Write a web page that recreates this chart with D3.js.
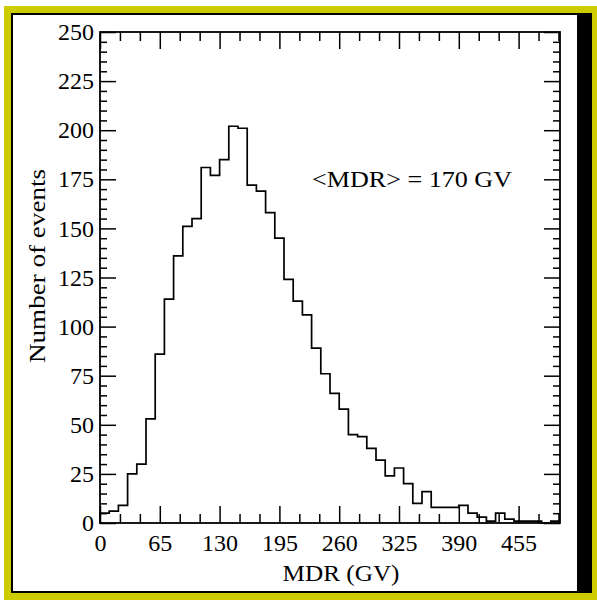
<!DOCTYPE html>
<html>
	<head>
		<meta charset="utf-8">
		<title>MDR histogram</title>
		<style type="text/css">
			body { margin: 0; background: #ffffff; }
			text { font-family: "Liberation Serif", "Times New Roman", serif; fill: #000; }
			.axis line { stroke: #000; stroke-width: 1.5; }
			.axis path { display: none; }
			.hist { fill: none; stroke: #000; stroke-width: 1.7; }
		</style>
		<script src="https://d3js.org/d3.v7.min.js"></script>
	</head>
	<body>
		<div id="chart"></div>
		<script>
		
		// bin lower edges (GV) and number of events in each 10 GV bin
		var binLow = [0, 10, 20, 30, 40, 50, 60, 70, 80, 90,
			100, 110, 120, 130, 140, 150, 160, 170, 180, 190,
			200, 210, 220, 230, 240, 250, 260, 270, 280, 290,
			300, 310, 320, 330, 340, 350, 360, 370, 380, 390,
			400, 410, 420, 430, 440, 450, 460, 470, 480, 490];
		var binWidth = 10;
		var counts = [5, 6, 9, 25, 30, 53, 86, 114, 136, 151,
			155, 181, 177, 185, 202, 201, 172, 169, 158, 145,
			124, 113, 106, 89, 76, 66, 58, 45, 44, 38,
			32, 24, 28, 20, 10, 16, 8, 8, 8, 9,
			5, 3, 1, 5, 2, 1, 1, 1, 0, 1];
		
		var xTicks = [0, 65, 130, 195, 260, 325, 390, 455];
		var yTicks = [0, 25, 50, 75, 100, 125, 150, 175, 200, 225, 250];
		var annotation = "<MDR> = 170 GV";
		var xTitle = "MDR (GV)";
		var yTitle = "Number of events";
		
		var W = 597, H = 605;
		var margin = {top: 32, left: 100, right: 37, bottom: 82};
		var width = W - margin.left - margin.right,
		height = H - margin.top - margin.bottom;
		
		var x = d3.scaleLinear().domain([0, 500]).range([0, width]);
		var y = d3.scaleLinear().domain([0, 250]).range([height, 0]);
		
		var xMinor = d3.range(0, 500, 65 / 3).filter(function(v) {
			return xTicks.every(function(t) { return Math.abs(t - v) > 1; });
		});
		var yMinor = d3.range(0, 251, 5).filter(function(v) { return v % 25 !== 0; });
		
		var svg = d3.select("#chart").append("svg")
		.attr("width", W)
		.attr("height", H);
		
		/* frame */
		svg.append("rect").attr("x", 4).attr("y", 6).attr("width", 593).attr("height", 594)
		.style("fill", "#cccc00");
		svg.append("rect").attr("x", 11).attr("y", 13).attr("width", 581).attr("height", 580)
		.style("fill", "#000");
		svg.append("rect").attr("x", 13).attr("y", 15).attr("width", 564).attr("height", 576)
		.style("fill", "#fff");
		
		var g = svg.append("g")
		.attr("transform", "translate(" + margin.left + "," + margin.top + ")");
		
		// major + minor ticks on all four sides, pointing inward
		g.append("g").attr("class", "axis")
		.attr("transform", "translate(0," + height + ")")
		.call(d3.axisBottom(x).tickValues(xTicks).tickSize(-17).tickPadding(11))
		.selectAll("text").style("font-size", "24px");
		g.append("g").attr("class", "axis")
		.attr("transform", "translate(0," + height + ")")
		.call(d3.axisBottom(x).tickValues(xMinor).tickSize(-9).tickFormat(""));
		g.append("g").attr("class", "axis")
		.call(d3.axisTop(x).tickValues(xTicks).tickSize(-17).tickFormat(""));
		g.append("g").attr("class", "axis")
		.call(d3.axisTop(x).tickValues(xMinor).tickSize(-9).tickFormat(""));
		
		g.append("g").attr("class", "axis")
		.call(d3.axisLeft(y).tickValues(yTicks).tickSize(-16).tickPadding(6))
		.selectAll("text").style("font-size", "24px");
		g.append("g").attr("class", "axis")
		.call(d3.axisLeft(y).tickValues(yMinor).tickSize(-7).tickFormat(""));
		g.append("g").attr("class", "axis")
		.attr("transform", "translate(" + width + ",0)")
		.call(d3.axisRight(y).tickValues(yTicks).tickSize(-16).tickFormat(""));
		g.append("g").attr("class", "axis")
		.attr("transform", "translate(" + width + ",0)")
		.call(d3.axisRight(y).tickValues(yMinor).tickSize(-7).tickFormat(""));
		
		g.append("rect")
		.attr("width", width).attr("height", height)
		.style("fill", "none").style("stroke", "#000").style("stroke-width", 1.8);
		
		/* step histogram */
		var pts = [[0, 0]];
		binLow.forEach(function(b, i) {
			pts.push([b, counts[i]]);
			pts.push([b + binWidth, counts[i]]);
		});
		var line = d3.line()
		.x(function(d) { return x(d[0]); })
		.y(function(d) { return y(d[1]); });
		g.append("path").attr("class", "hist").attr("d", line(pts));
		
		g.append("text")
		.attr("x", 212)
		.attr("y", 155)
		.attr("textLength", 200).attr("lengthAdjust", "spacingAndGlyphs")
		.style("font-size", "24px")
		.text(annotation);
		
		svg.append("text")
		.attr("x", 341).attr("y", 581)
		.attr("text-anchor", "middle")
		.attr("textLength", 117).attr("lengthAdjust", "spacingAndGlyphs")
		.style("font-size", "24px")
		.text(xTitle);
		
		svg.append("text")
		.attr("transform", "translate(45,266) rotate(-90)")
		.attr("text-anchor", "middle")
		.attr("textLength", 194).attr("lengthAdjust", "spacingAndGlyphs")
		.style("font-size", "24px")
		.text(yTitle);
		
		</script>
	</body>
</html>
